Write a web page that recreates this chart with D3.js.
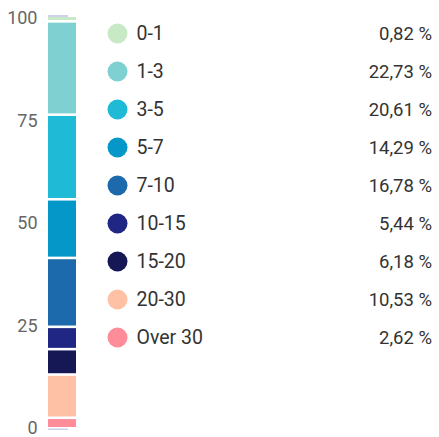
<!DOCTYPE html>
<html>
<head>
<meta charset="utf-8">
<script src="https://cdn.jsdelivr.net/npm/d3@7"></script>
<style>
  body { margin: 0; background: #fff; }
  svg text { font-family: Roboto, "Noto Sans", sans-serif; }
</style>
</head>
<body>
<div id="chart"></div>
<script>
var categories = ["0-1", "1-3", "3-5", "5-7", "7-10", "10-15", "15-20", "20-30", "Over 30"];
var values = [0.82, 22.73, 20.61, 14.29, 16.78, 5.44, 6.18, 10.53, 2.62];
var colors = ["#c7e9c6", "#7fd0d0", "#1fbad5", "#0497c7", "#1c69ab", "#1f2683", "#151854", "#ffc1a5", "#ff8c99"];
var yTicks = [0, 25, 50, 75, 100];

var width = 439, height = 437;

var svg = d3.select("#chart").append("svg")
    .attr("width", width)
    .attr("height", height);

var y = d3.scaleLinear().domain([0, 100]).range([428.5, 18]);

// axis labels only, no line / ticks
var axis = svg.append("g")
    .attr("transform", "translate(37.5,0)")
    .call(d3.axisLeft(y).tickValues(yTicks).tickSize(0).tickPadding(0));
axis.select(".domain").remove();
axis.selectAll("text")
    .style("font-size", "18px")
    .style("fill", "#666")
    .attr("dy", "0.3em");

// stack: first category on top, last at the bottom
var stackData = [];
var cum = 0;
for (var i = values.length - 1; i >= 0; i--) {
    stackData.push({name: categories[i], value: values[i], color: colors[i], y0: cum, y1: cum + values[i]});
    cum += values[i];
}

var barX = 48, barW = 28, gap = 1.3;

// faint track ends peeking out above / below the stack
svg.append("rect")
    .attr("x", barX).attr("width", 20)
    .attr("y", y(100) - 3).attr("height", 2)
    .attr("fill", "#cdd1ec");
svg.append("rect")
    .attr("x", barX).attr("width", 20)
    .attr("y", y(0)).attr("height", 1.5)
    .attr("fill", "#cdd1ec");

svg.selectAll(".seg")
    .data(stackData)
    .enter().append("rect")
    .attr("class", "seg")
    .attr("x", barX)
    .attr("width", barW)
    .attr("y", function(d) { return y(d.y1) + (d.y1 >= 99.99 ? -1 : gap); })
    .attr("height", function(d) {
        var top = y(d.y1) + (d.y1 >= 99.99 ? -1 : gap);
        var bot = y(d.y0) - (d.y0 <= 0 ? 1.5 : gap);
        return Math.max(1, bot - top);
    })
    .attr("fill", function(d) { return d.color; });

// legend
var rowY = d3.scaleLinear().domain([0, categories.length - 1]).range([33.5, 337.5]);

var legend = svg.selectAll(".row")
    .data(categories)
    .enter().append("g")
    .attr("class", "row")
    .attr("transform", function(d, i) { return "translate(0," + rowY(i) + ")"; });

legend.append("circle")
    .attr("cx", 117.5)
    .attr("r", 10)
    .attr("fill", function(d, i) { return colors[i]; });

legend.append("text")
    .attr("x", 136.5)
    .attr("dy", "0.35em")
    .style("font-size", "19.5px")
    .style("fill", "#333")
    .text(function(d) { return d; });

legend.append("text")
    .attr("x", 432)
    .attr("dy", "0.35em")
    .style("font-size", "18.5px")
    .style("fill", "#333")
    .style("text-anchor", "end")
    .text(function(d, i) { return values[i].toFixed(2).replace(".", ",") + " %"; });
</script>
</body>
</html>
